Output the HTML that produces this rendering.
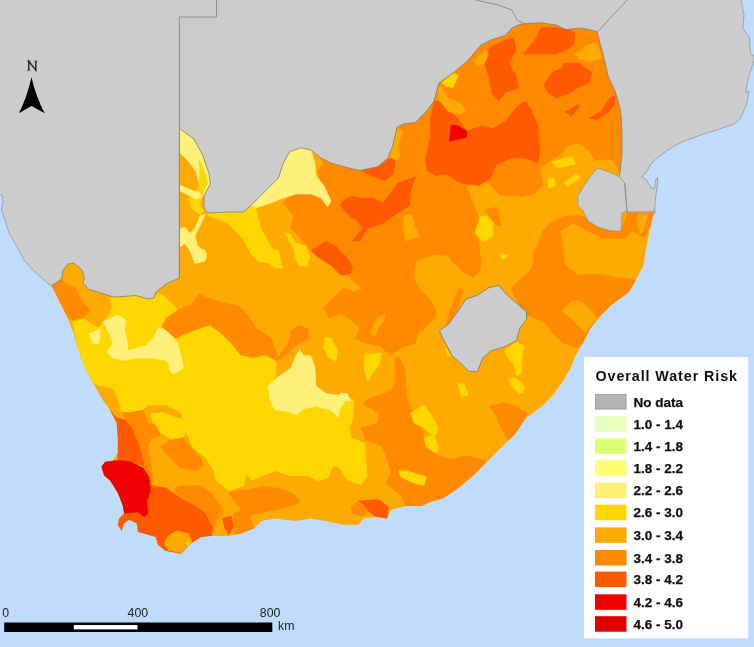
<!DOCTYPE html>
<html><head><meta charset="utf-8"><title>Overall Water Risk</title>
<style>
html,body{margin:0;padding:0;background:#bfdcfd;}
body{width:754px;height:647px;overflow:hidden;position:relative;font-family:"Liberation Sans",sans-serif;}
svg text{font-family:"Liberation Sans",sans-serif;}
.lg text{stroke:#111;stroke-width:0.25px;}
</style></head><body>
<svg width="754" height="647" viewBox="0 0 754 647" style="position:absolute;left:0;top:0">
<defs><filter id="b" x="-2%" y="-2%" width="104%" height="104%"><feGaussianBlur stdDeviation="0.7"/></filter><filter id="b2" x="-2%" y="-2%" width="104%" height="104%"><feGaussianBlur stdDeviation="0.6"/></filter><clipPath id="sa"><polygon points="179.4,128.5 194.0,139.0 202.8,155.4 209.0,173.0 210.3,184.0 204.0,195.7 204.0,208.0 207.8,213.0 228.0,212.0 243.0,212.0 250.6,205.8 265.8,190.6 278.4,178.0 283.4,163.0 289.7,151.6 301.0,147.8 311.0,150.0 321.0,158.0 331.0,163.0 344.0,166.7 360.0,170.5 377.8,166.7 387.9,158.0 393.0,145.0 397.0,127.0 405.0,123.5 415.6,122.6 428.0,109.6 434.0,101.0 439.0,83.0 453.0,73.0 468.0,60.5 481.0,45.0 491.0,40.0 506.0,35.0 512.0,28.0 521.0,24.0 541.0,22.7 556.0,25.0 566.0,29.5 581.6,28.0 597.0,31.5 604.0,58.0 608.0,75.6 615.7,93.0 620.7,111.0 622.0,131.0 622.0,155.0 619.6,175.5 624.7,183.0 627.5,212.5 654.4,212.7 652.5,218.0 648.6,236.0 645.5,252.0 643.6,265.0 636.0,280.0 628.4,292.8 620.9,298.0 610.8,305.4 600.7,315.5 590.6,328.0 583.0,343.0 575.5,355.8 570.5,368.4 563.0,381.0 553.0,395.5 541.0,407.0 526.0,417.8 516.0,433.0 505.8,443.0 495.8,453.0 485.7,463.0 473.0,475.8 458.0,488.4 442.8,498.4 431.5,501.5 421.4,506.0 406.0,506.0 391.0,509.7 387.0,518.5 376.0,517.0 363.4,518.5 358.4,524.8 343.0,524.8 325.6,521.0 310.5,518.5 295.4,521.0 275.0,518.5 261.4,521.0 254.0,528.5 241.3,533.6 228.7,536.0 211.0,536.0 201.0,537.0 191.0,543.6 180.8,553.7 165.7,551.0 158.0,545.0 155.6,537.0 148.0,534.8 138.0,532.0 136.7,523.5 129.0,519.7 124.0,523.5 121.6,531.0 117.8,524.7 119.0,518.4 124.0,513.4 122.8,505.8 117.8,493.0 110.0,480.6 104.0,475.6 101.4,466.8 105.0,461.7 112.8,460.5 117.8,453.0 117.8,437.8 116.5,422.7 110.0,410.0 102.7,400.0 93.0,383.0 84.0,365.7 77.8,348.0 72.8,330.4 67.7,317.8 60.0,302.7 51.5,285.8 61.7,279.0 63.0,270.0 68.0,264.0 74.0,263.0 82.0,270.0 84.4,278.0 83.0,283.0 88.0,289.0 100.8,293.0 113.4,297.0 136.0,295.6 148.7,299.0 153.7,298.0 156.0,292.0 166.0,284.0 179.4,278.0"/></clipPath></defs>
<rect width="754" height="647" fill="#bfdcfd"/>
<g filter="url(#b)">
<polygon points="0.0,0.0 741.0,0.0 744.0,14.8 743.0,27.8 746.8,34.0 749.5,37.0 750.5,53.7 754.0,55.5 754.0,61.0 749.5,74.0 746.8,85.0 745.8,92.6 749.0,91.0 746.8,103.7 742.0,114.8 739.4,120.0 733.0,124.5 715.0,130.5 700.0,135.3 681.6,142.0 668.0,149.8 657.8,157.4 651.0,164.0 646.0,172.7 641.7,177.0 646.0,179.5 651.0,187.0 654.4,188.9 656.0,178.7 657.8,177.8 657.0,188.0 655.3,200.0 654.4,212.7 600.0,300.0 300.0,330.0 80.0,320.0 51.5,285.8 42.8,279.0 32.8,270.0 24.0,260.0 17.6,247.7 8.8,232.6 5.0,220.0 1.3,210.0 3.0,202.0 2.5,196.0 0.0,194.8" fill="#cccccc"/>
<polygon points="179.4,128.5 194.0,139.0 202.8,155.4 209.0,173.0 210.3,184.0 204.0,195.7 204.0,208.0 207.8,213.0 228.0,212.0 243.0,212.0 250.6,205.8 265.8,190.6 278.4,178.0 283.4,163.0 289.7,151.6 301.0,147.8 311.0,150.0 321.0,158.0 331.0,163.0 344.0,166.7 360.0,170.5 377.8,166.7 387.9,158.0 393.0,145.0 397.0,127.0 405.0,123.5 415.6,122.6 428.0,109.6 434.0,101.0 439.0,83.0 453.0,73.0 468.0,60.5 481.0,45.0 491.0,40.0 506.0,35.0 512.0,28.0 521.0,24.0 541.0,22.7 556.0,25.0 566.0,29.5 581.6,28.0 597.0,31.5 604.0,58.0 608.0,75.6 615.7,93.0 620.7,111.0 622.0,131.0 622.0,155.0 619.6,175.5 624.7,183.0 627.5,212.5 654.4,212.7 652.5,218.0 648.6,236.0 645.5,252.0 643.6,265.0 636.0,280.0 628.4,292.8 620.9,298.0 610.8,305.4 600.7,315.5 590.6,328.0 583.0,343.0 575.5,355.8 570.5,368.4 563.0,381.0 553.0,395.5 541.0,407.0 526.0,417.8 516.0,433.0 505.8,443.0 495.8,453.0 485.7,463.0 473.0,475.8 458.0,488.4 442.8,498.4 431.5,501.5 421.4,506.0 406.0,506.0 391.0,509.7 387.0,518.5 376.0,517.0 363.4,518.5 358.4,524.8 343.0,524.8 325.6,521.0 310.5,518.5 295.4,521.0 275.0,518.5 261.4,521.0 254.0,528.5 241.3,533.6 228.7,536.0 211.0,536.0 201.0,537.0 191.0,543.6 180.8,553.7 165.7,551.0 158.0,545.0 155.6,537.0 148.0,534.8 138.0,532.0 136.7,523.5 129.0,519.7 124.0,523.5 121.6,531.0 117.8,524.7 119.0,518.4 124.0,513.4 122.8,505.8 117.8,493.0 110.0,480.6 104.0,475.6 101.4,466.8 105.0,461.7 112.8,460.5 117.8,453.0 117.8,437.8 116.5,422.7 110.0,410.0 102.7,400.0 93.0,383.0 84.0,365.7 77.8,348.0 72.8,330.4 67.7,317.8 60.0,302.7 51.5,285.8 61.7,279.0 63.0,270.0 68.0,264.0 74.0,263.0 82.0,270.0 84.4,278.0 83.0,283.0 88.0,289.0 100.8,293.0 113.4,297.0 136.0,295.6 148.7,299.0 153.7,298.0 156.0,292.0 166.0,284.0 179.4,278.0" fill="#ffaa00"/>
<g clip-path="url(#sa)" stroke-linejoin="round">
<polygon points="321.0,158.0 323.7,164.0 317.4,170.5 321.0,183.0 331.0,203.0 327.5,207.0 321.0,198.0 311.0,194.0 296.0,194.0 287.0,198.0 283.4,203.0 293.5,215.8 291.0,228.4 301.0,238.5 311.0,251.0 318.7,258.0 331.0,266.0 341.0,276.0 352.0,272.0 350.0,277.0 356.0,284.0 363.0,289.0 352.6,291.6 344.0,287.8 331.0,300.0 323.7,308.0 328.8,318.0 341.4,313.0 351.4,320.6 360.0,328.0 355.0,338.0 365.0,343.0 380.0,345.8 390.4,355.8 400.5,348.0 415.6,343.0 418.0,333.0 430.7,323.0 437.0,313.0 430.7,300.0 420.6,290.0 413.0,277.7 415.6,265.0 428.0,260.0 440.8,256.0 451.0,260.0 463.5,272.7 473.6,277.7 480.0,270.0 481.0,261.0 478.6,243.6 476.0,231.0 480.0,221.0 476.0,210.8 471.0,198.0 466.0,185.6 488.7,183.0 501.0,195.7 516.4,195.7 522.6,197.0 535.0,193.0 542.8,185.6 540.0,168.0 551.6,160.4 568.0,147.8 580.6,144.0 588.0,150.0 595.7,160.4 610.8,159.0 618.4,168.0 619.6,175.5 622.0,155.0 622.0,131.0 620.7,111.0 615.7,93.0 608.0,75.6 604.0,58.0 597.0,31.5 581.6,28.0 566.0,29.5 556.0,25.0 541.0,22.7 521.0,24.0 512.0,28.0 506.0,35.0 491.0,40.0 481.0,45.0 468.0,60.5 453.0,73.0 439.0,83.0 434.0,101.0 428.0,109.6 415.6,122.6 405.0,123.5 397.0,127.0 393.0,145.0 387.9,158.0 377.8,166.7 360.0,170.5 344.0,166.7 331.0,163.0 321.0,158.0" fill="#ff8a00" stroke="#ff8a00" stroke-width="0.6"/>
<polygon points="488.4,49.0 501.0,41.6 513.6,37.8 516.0,50.4 508.5,63.0 516.0,75.6 518.6,88.0 506.0,92.0 498.4,100.8 492.0,93.0 488.4,75.6 484.6,63.0" fill="#ff5a00" stroke="#ff5a00" stroke-width="0.6"/>
<polygon points="541.0,27.7 556.4,27.7 570.0,30.0 575.0,33.0 574.0,45.0 570.0,47.9 556.4,54.0 536.0,54.0 523.6,54.0 531.0,45.0 536.0,37.8" fill="#ff5a00" stroke="#ff5a00" stroke-width="0.6"/>
<polygon points="543.8,85.7 551.4,73.0 561.5,68.0 564.0,63.0 579.0,63.0 591.7,73.0 589.0,83.0 579.0,87.0 570.0,93.0 556.4,98.0 548.8,93.0" fill="#ff5a00" stroke="#ff5a00" stroke-width="0.6"/>
<polygon points="434.0,100.8 440.5,100.8 455.6,116.0 467.0,131.0 480.8,126.0 493.4,128.5 506.0,121.0 516.0,108.0 525.0,100.8 531.4,110.0 537.7,125.0 540.0,147.8 537.7,163.0 525.0,157.9 511.4,158.0 496.0,165.0 491.0,178.0 478.6,185.6 461.0,183.0 445.8,174.0 435.8,175.5 427.0,170.5 425.7,160.0 430.7,135.0 430.4,118.5" fill="#ff5a00" stroke="#ff5a00" stroke-width="0.6"/>
<polygon points="451.0,125.0 458.5,126.0 467.0,131.4 466.0,137.7 458.5,139.0 449.6,141.5" fill="#f00000" stroke="#f00000" stroke-width="0.6"/>
<polygon points="589.0,118.5 601.8,111.0 609.4,98.0 615.7,95.8 614.4,105.8 606.8,113.4 596.8,119.7" fill="#ff5a00" stroke="#ff5a00" stroke-width="0.6"/>
<polygon points="565.0,112.0 577.9,104.6 579.0,107.0 571.6,116.0" fill="#ff5a00" stroke="#ff5a00" stroke-width="0.6"/>
<polygon points="440.5,85.7 448.0,98.0 460.6,103.0 465.7,111.0 458.0,114.7 448.0,111.0 439.0,100.8 438.0,88.0" fill="#ffaa00" stroke="#ffaa00" stroke-width="0.6"/>
<polygon points="441.7,83.0 453.0,73.0 458.0,75.6 453.0,88.0 446.0,86.0" fill="#ffd700" stroke="#ffd700" stroke-width="0.6"/>
<polygon points="473.0,60.5 485.8,50.4 488.4,54.0 484.6,63.0 478.0,65.5" fill="#ffaa00" stroke="#ffaa00" stroke-width="0.6"/>
<polygon points="575.0,54.0 586.7,45.0 596.8,42.8 601.8,58.0 591.7,61.7 579.0,59.0" fill="#ffaa00" stroke="#ffaa00" stroke-width="0.6"/>
<polygon points="387.6,151.0 397.6,128.5 402.7,131.0 397.6,146.0 400.0,156.0 395.0,162.0 388.0,158.0" fill="#ffaa00" stroke="#ffaa00" stroke-width="0.6"/>
<polygon points="340.0,205.8 352.6,198.0 372.8,198.0 382.8,203.0 398.0,183.0 415.6,176.8 410.6,190.6 409.3,205.8 398.0,213.0 382.8,223.4 367.7,228.4 360.0,241.0 352.6,241.0 362.7,228.4 355.0,218.0 347.6,210.8" fill="#ff5a00" stroke="#ff5a00" stroke-width="0.6"/>
<polygon points="359.0,169.0 377.8,166.7 390.4,158.0 395.4,160.4 393.0,173.0 385.4,180.6 370.0,175.5" fill="#ff5a00" stroke="#ff5a00" stroke-width="0.6"/>
<polygon points="341.4,203.0 351.4,195.7 360.0,198.0 362.0,221.0 351.4,218.0 344.0,210.8" fill="#ff5a00" stroke="#ff5a00" stroke-width="0.6"/>
<polygon points="311.0,251.0 326.0,241.0 336.0,246.0 340.0,251.0 347.6,258.0 352.6,268.0 350.0,274.0 341.4,275.0 331.0,265.0 318.7,257.6" fill="#ff5a00" stroke="#ff5a00" stroke-width="0.6"/>
<polygon points="404.0,216.0 411.8,214.6 415.6,228.4 419.4,236.0 405.5,241.0 403.0,226.0" fill="#ffaa00" stroke="#ffaa00" stroke-width="0.6"/>
<polygon points="415.6,261.0 435.8,255.0 448.0,256.0 456.0,272.0 440.0,258.0 428.0,261.0 416.0,266.0" fill="#ffaa00" stroke="#ffaa00" stroke-width="0.6"/>
<polygon points="480.0,217.0 486.0,215.8 493.7,223.4 492.5,236.0 483.6,242.0 474.8,233.5" fill="#ffd700" stroke="#ffd700" stroke-width="0.6"/>
<polygon points="501.0,253.6 507.6,255.0 505.0,259.0 501.0,259.0" fill="#ffd700" stroke="#ffd700" stroke-width="0.6"/>
<polygon points="485.0,209.5 497.5,207.0 501.0,226.0 495.0,224.0" fill="#ff8a00" stroke="#ff8a00" stroke-width="0.6"/>
<polygon points="551.6,161.7 573.0,156.6 575.5,164.0 558.0,168.0" fill="#ffd700" stroke="#ffd700" stroke-width="0.6"/>
<polygon points="547.8,179.0 554.0,178.0 555.4,185.6 549.0,188.0" fill="#ffd700" stroke="#ffd700" stroke-width="0.6"/>
<polygon points="564.0,183.0 576.8,173.0 579.3,178.0 568.0,185.6" fill="#ffd700" stroke="#ffd700" stroke-width="0.6"/>
<polygon points="564.0,148.7 576.6,143.6 580.0,146.0 568.0,150.0" fill="#ffaa00" stroke="#ffaa00" stroke-width="0.6"/>
<polygon points="550.0,223.0 565.0,215.8 583.0,215.8 598.0,228.0 621.0,232.0 627.0,213.0 656.0,212.0 652.0,222.0 645.0,237.0 640.0,236.0 633.5,231.0 623.0,238.5 603.0,238.5 588.0,231.0 573.0,223.0 560.0,231.0 563.0,251.0 560.0,272.0 563.0,250.0 565.0,265.0 578.0,275.0 598.0,274.0 618.0,277.7 636.0,280.0 628.4,292.8 620.9,298.0 610.8,305.4 600.7,315.5 590.6,328.0 583.0,343.0 578.0,348.0 563.0,343.0 552.8,333.0 545.0,323.0 535.0,318.0 527.6,315.5 520.0,305.4 511.4,287.8 522.6,277.7 532.7,267.6 534.0,250.0 537.7,246.0 542.8,231.0" fill="#ff8a00" stroke="#ff8a00" stroke-width="0.6"/>
<polygon points="561.7,310.5 573.0,300.0 583.0,303.0 593.0,313.0 597.0,319.0 588.0,328.0 585.6,333.0 578.0,325.6 570.5,318.0" fill="#ffaa00" stroke="#ffaa00" stroke-width="0.6"/>
<polygon points="511.4,287.8 530.0,275.0 534.0,262.0 530.0,313.0 521.5,305.4 514.0,295.4" fill="#ff8a00" stroke="#ff8a00" stroke-width="0.6"/>
<polygon points="638.5,214.0 647.3,214.0 643.6,230.4 639.8,234.0 637.3,225.0" fill="#ffaa00" stroke="#ffaa00" stroke-width="0.6"/>
<polygon points="179.4,128.5 194.0,139.0 202.8,155.4 209.0,173.0 210.3,184.0 204.0,195.7 200.0,186.0 196.0,172.0 190.0,163.0 180.0,153.0" fill="#fff07a" stroke="#fff07a" stroke-width="0.6"/>
<polygon points="199.0,159.0 205.0,173.0 207.8,183.0 202.8,193.0 200.0,205.8 204.0,210.8 200.0,215.0 191.4,208.0 188.9,198.0 195.0,195.7 199.0,185.6 200.0,175.5" fill="#ffd700" stroke="#ffd700" stroke-width="0.6"/>
<polygon points="180.0,185.6 200.0,193.0 202.8,197.0 196.0,199.0 180.0,191.0" fill="#fff07a" stroke="#fff07a" stroke-width="0.6"/>
<polygon points="180.0,228.4 185.0,227.0 190.0,233.5 195.0,228.4 200.0,215.8 205.0,214.6 200.0,226.0 195.0,236.0 197.7,246.0 206.5,253.6 205.0,261.0 195.0,263.7 190.0,251.0 185.0,243.6 180.0,247.0" fill="#fff07a" stroke="#fff07a" stroke-width="0.6"/>
<polygon points="283.4,163.0 289.7,151.6 301.0,147.8 311.0,150.0 315.0,163.0 316.0,175.5 323.7,185.6 331.0,200.7 327.5,207.0 321.0,198.0 311.0,194.0 296.0,194.0 283.4,198.0 270.8,203.0 255.7,208.0 250.6,205.8 265.8,190.6 278.4,178.0" fill="#fff07a" stroke="#fff07a" stroke-width="0.6"/>
<polygon points="207.8,213.0 228.0,212.0 243.0,212.0 250.6,206.0 255.7,208.0 260.7,228.0 270.8,246.0 281.0,263.7 283.0,268.0 276.0,268.0 268.0,262.6 258.0,261.0 250.6,253.6 243.0,238.5 228.0,223.0 207.8,215.8" fill="#ffd700" stroke="#ffd700" stroke-width="0.6"/>
<polygon points="284.7,233.5 289.7,233.5 296.0,243.6 306.0,246.0 308.6,256.0 307.4,266.0 299.8,266.0 296.0,258.7 293.5,248.6" fill="#ffd700" stroke="#ffd700" stroke-width="0.6"/>
<polygon points="191.4,250.0 205.0,250.0 206.5,257.6 200.0,262.6 194.0,260.0" fill="#fff07a" stroke="#fff07a" stroke-width="0.6"/>
<polygon points="161.0,326.6 166.0,317.8 177.4,310.0 191.0,305.0 199.0,294.0 207.8,298.0 220.4,302.0 238.0,305.4 248.0,315.5 255.7,328.0 270.8,338.0 275.8,350.8 278.0,358.0 288.4,343.0 291.0,330.6 298.5,325.6 308.6,329.0 308.6,338.0 296.0,345.8 288.4,353.0 281.0,358.0 275.8,361.0 265.8,355.8 253.0,358.0 240.6,355.8 230.5,343.0 220.0,333.0 210.0,325.6 203.8,327.9 195.0,330.6 186.0,334.0 176.0,339.0" fill="#ff8a00" stroke="#ff8a00" stroke-width="0.6"/>
<polygon points="72.8,321.6 82.8,319.0 99.0,327.9 108.0,316.5 112.0,307.7 110.0,297.0 113.4,296.5 136.0,295.0 148.7,298.5 153.7,297.5 158.0,293.0 163.0,295.0 171.0,302.7 177.4,310.0 166.0,317.8 161.0,326.6 176.0,339.0 182.6,335.7 195.0,330.6 210.0,325.6 220.0,333.0 230.5,343.0 240.6,355.8 253.0,358.0 265.8,355.8 275.8,361.0 275.8,376.0 268.0,386.0 270.0,400.0 275.0,410.0 287.8,411.4 296.6,415.0 303.0,409.0 315.5,406.4 330.6,410.0 338.0,417.7 340.7,407.6 348.0,397.6 354.0,400.0 353.0,417.7 349.5,427.8 350.8,437.9 364.7,443.0 366.0,463.0 367.0,475.7 360.9,484.5 348.0,480.7 339.5,468.0 333.0,465.6 328.0,478.0 318.0,480.7 308.0,475.7 290.0,475.7 275.0,470.6 262.6,475.7 251.4,480.6 246.0,473.0 243.8,485.7 228.7,490.7 216.0,480.6 213.6,470.6 206.0,458.0 193.4,447.9 185.8,431.5 180.8,441.6 173.0,440.0 160.6,432.8 153.0,422.7 150.6,413.9 163.0,412.6 175.8,417.6 183.0,419.0 180.8,412.6 165.7,405.0 148.0,405.0 143.0,410.0 130.4,412.6 121.6,412.6 118.0,398.4 113.0,388.4 100.5,385.8 93.0,383.0 84.0,365.7 77.8,348.0" fill="#ffd700" stroke="#ffd700" stroke-width="0.6"/>
<polygon points="89.0,334.0 100.5,329.0 99.0,343.0 94.0,344.0" fill="#fff07a" stroke="#fff07a" stroke-width="0.6"/>
<polygon points="103.0,321.6 118.0,315.0 125.7,320.0 124.4,330.4 127.0,340.5 128.0,350.6 145.8,345.5 153.4,338.0 158.4,327.9 166.0,330.4 176.0,340.5 181.0,355.6 183.6,368.0 176.0,373.0 171.0,368.0 166.0,360.6 150.9,358.0 135.8,358.0 123.0,360.6 113.0,358.0 106.8,351.8 113.0,343.0 109.0,333.0" fill="#fff07a" stroke="#fff07a" stroke-width="0.6"/>
<polygon points="170.0,335.7 177.6,343.0 181.0,358.0 180.0,371.0 172.5,373.5 169.0,370.0" fill="#fff07a" stroke="#fff07a" stroke-width="0.6"/>
<polygon points="268.0,386.0 275.8,378.5 291.0,368.0 296.0,355.8 299.8,349.5 303.6,355.8 311.0,355.8 315.0,368.0 316.0,386.0 326.0,393.6 346.4,396.0 351.4,401.0 348.0,397.6 340.7,407.6 338.0,417.7 330.6,410.0 315.5,406.4 303.0,409.0 296.6,415.0 287.8,411.4 275.0,410.0 270.0,400.0" fill="#fff07a" stroke="#fff07a" stroke-width="0.6"/>
<polygon points="250.6,250.0 278.4,250.0 282.0,267.6 275.8,267.6 268.0,262.6 258.0,261.0" fill="#ffd700" stroke="#ffd700" stroke-width="0.6"/>
<polygon points="296.0,250.0 307.0,250.0 310.0,257.5 306.0,266.0 299.8,265.0 296.0,257.0" fill="#ffd700" stroke="#ffd700" stroke-width="0.6"/>
<polygon points="325.0,338.0 331.0,338.0 337.6,350.8 336.0,361.0 328.8,358.0 323.7,348.0" fill="#ffd700" stroke="#ffd700" stroke-width="0.6"/>
<polygon points="51.5,285.8 61.7,279.0 66.0,284.0 75.0,287.6 82.8,302.7 90.4,310.0 82.8,317.8 72.8,320.0 67.7,317.8 60.0,302.7" fill="#ff8a00" stroke="#ff8a00" stroke-width="0.6"/>
<polygon points="130.4,412.6 143.0,410.0 148.0,422.7 155.6,425.0 160.6,435.0 153.0,437.8 148.0,445.0 150.6,460.5 153.0,480.6 150.6,485.7 143.0,468.0 140.5,450.4 133.0,430.0 125.4,420.0 121.6,412.6" fill="#ff8a00" stroke="#ff8a00" stroke-width="0.6"/>
<polygon points="116.5,417.6 125.4,420.0 133.0,430.0 140.5,450.4 144.3,465.5 130.4,461.7 117.8,460.5 117.8,453.0 117.8,437.8" fill="#ff5a00" stroke="#ff5a00" stroke-width="0.6"/>
<polygon points="115.6,417.0 110.0,410.0 116.5,422.7" fill="#ff5a00" stroke="#ff5a00" stroke-width="0.6"/>
<polygon points="160.6,446.6 170.7,440.0 183.0,437.8 190.9,447.9 201.0,458.0 203.5,465.5 196.0,470.6 180.8,468.0 173.0,460.5 165.7,453.0" fill="#ff8a00" stroke="#ff8a00" stroke-width="0.6"/>
<polygon points="150.6,485.7 165.7,488.0 180.8,498.0 196.0,505.8 206.0,513.4 213.6,528.5 211.0,536.0 201.0,537.0 191.0,543.6 180.8,553.7 165.7,551.0 158.0,545.0 155.6,537.0 148.0,534.8 138.0,532.0 136.7,523.5 129.0,519.7 124.0,523.5 121.6,531.0 117.8,524.7 119.0,518.4 124.0,513.4 138.0,512.0 144.3,517.0 148.0,513.4 146.8,500.8" fill="#ff5a00" stroke="#ff5a00" stroke-width="0.6"/>
<polygon points="168.0,536.0 175.8,531.0 188.4,533.6 192.0,542.0 180.8,552.5 168.0,550.0 164.4,543.6" fill="#ffaa00" stroke="#ffaa00" stroke-width="0.6"/>
<polygon points="185.8,542.4 190.0,542.0 188.0,547.0" fill="#ffd700" stroke="#ffd700" stroke-width="0.6"/>
<polygon points="173.0,488.0 185.8,485.7 201.0,485.7 211.0,493.0 221.0,505.8 223.6,513.4 217.3,518.4 213.6,528.5 206.0,513.4 196.0,505.8 180.8,498.0" fill="#ff8a00" stroke="#ff8a00" stroke-width="0.6"/>
<polygon points="222.4,518.4 231.0,516.0 233.7,526.0 228.7,534.8 225.0,528.5" fill="#ff5a00" stroke="#ff5a00" stroke-width="0.6"/>
<polygon points="105.0,461.7 117.8,460.5 130.4,461.7 143.0,468.0 149.3,478.0 150.6,490.7 146.8,500.8 148.0,513.4 144.3,517.0 138.0,512.0 124.0,513.4 122.8,505.8 117.8,493.0 110.0,480.6 104.0,475.6 101.4,466.8" fill="#f00000" stroke="#f00000" stroke-width="0.6"/>
<polygon points="229.0,492.0 246.0,490.0 265.0,486.5 280.0,488.5 293.0,493.4 300.0,501.8 287.5,507.0 272.0,510.5 259.6,513.0 250.0,515.7 241.5,510.0 234.6,501.8" fill="#ff8a00" stroke="#ff8a00" stroke-width="0.6"/>
<polygon points="233.0,514.0 241.5,510.0 250.0,515.7 252.0,522.0 254.0,528.5 241.3,533.6 235.0,534.5" fill="#ff8a00" stroke="#ff8a00" stroke-width="0.6"/>
<polygon points="366.0,400.0 376.0,396.0 385.0,393.5 392.0,389.0 395.5,380.0 394.5,368.0 395.5,358.0 399.0,357.0 404.0,366.0 406.0,380.0 405.0,382.5 403.8,400.0 410.0,415.0 422.7,430.4 425.0,445.5 437.8,455.6 450.4,459.4 465.5,455.6 485.7,460.6 485.7,463.0 473.0,475.8 458.0,488.4 442.8,498.4 431.5,501.5 421.4,506.0 406.0,506.0 401.0,495.8 386.0,483.0 391.0,473.0 386.0,455.5 381.0,445.0 366.0,440.0 360.9,427.8 378.5,422.8 378.5,412.7 376.0,410.0 363.4,405.0" fill="#ff8a00" stroke="#ff8a00" stroke-width="0.6"/>
<polygon points="365.0,401.0 385.0,393.6 390.0,398.7 398.0,396.0 405.5,386.0 408.0,401.0 413.0,412.0 375.0,412.0" fill="#ff8a00" stroke="#ff8a00" stroke-width="0.6"/>
<polygon points="411.0,412.7 424.0,405.0 431.5,415.0 437.8,427.8 436.5,435.0 430.0,434.0 424.0,427.8 413.8,422.8" fill="#ffd700" stroke="#ffd700" stroke-width="0.6"/>
<polygon points="424.0,437.9 434.0,435.0 439.0,448.0 436.0,453.0 431.5,450.5 426.4,446.7" fill="#ffd700" stroke="#ffd700" stroke-width="0.6"/>
<polygon points="398.7,470.6 406.0,470.6 426.4,477.0 424.0,485.8 411.0,482.0 401.0,477.0" fill="#ffd700" stroke="#ffd700" stroke-width="0.6"/>
<polygon points="358.4,500.9 378.5,499.6 388.6,507.0 387.0,518.5 376.0,517.0 368.4,511.0 363.4,504.7" fill="#ff5a00" stroke="#ff5a00" stroke-width="0.6"/>
<polygon points="350.8,507.0 358.4,502.0 368.4,511.0 363.4,516.0 353.0,513.5" fill="#ff8a00" stroke="#ff8a00" stroke-width="0.6"/>
<polygon points="489.5,406.5 500.8,404.0 516.0,406.5 527.0,412.8 526.0,417.8 516.0,433.0 508.4,440.5 500.8,427.9 495.8,415.0" fill="#ff8a00" stroke="#ff8a00" stroke-width="0.6"/>
<polygon points="458.0,383.8 464.0,385.0 468.0,395.0 461.7,396.4" fill="#ffd700" stroke="#ffd700" stroke-width="0.6"/>
<polygon points="508.4,380.0 518.4,380.0 524.7,388.8 519.7,393.9 513.4,387.6" fill="#ffd700" stroke="#ffd700" stroke-width="0.6"/>
<polygon points="505.0,350.8 516.4,342.0 524.0,345.8 521.5,360.9 521.3,373.5 516.4,376.0 514.0,363.4 507.6,358.4" fill="#ffd700" stroke="#ffd700" stroke-width="0.6"/>
<polygon points="508.9,378.5 516.4,378.5 524.0,386.0 522.7,393.6 516.4,391.0 511.4,386.0" fill="#ffd700" stroke="#ffd700" stroke-width="0.6"/>
<polygon points="365.0,354.6 381.6,353.0 380.0,363.4 372.8,373.5 367.7,381.0 364.0,368.0" fill="#ffd700" stroke="#ffd700" stroke-width="0.6"/>
<polygon points="370.0,333.0 377.8,318.0 385.4,314.0 384.0,320.6 377.8,328.0 375.0,337.0" fill="#ffaa00" stroke="#ffaa00" stroke-width="0.6"/>
<polygon points="445.8,325.6 452.0,305.4 459.7,287.8 463.5,290.0 457.0,310.5 448.4,324.3" fill="#ff8a00" stroke="#ff8a00" stroke-width="0.6"/>
<polygon points="445.8,348.0 450.9,355.8 447.0,356.0" fill="#ffd700" stroke="#ffd700" stroke-width="0.6"/>
<polygon points="458.5,384.8 463.5,383.6 468.5,395.0 462.0,396.0" fill="#ffd700" stroke="#ffd700" stroke-width="0.6"/>
<polygon points="340.0,393.6 347.6,393.6 350.0,401.0 343.0,400.0" fill="#fff07a" stroke="#fff07a" stroke-width="0.6"/>
<polygon points="491.0,406.0 503.8,402.5 516.0,406.5 500.0,408.0" fill="#ff8a00" stroke="#ff8a00" stroke-width="0.6"/>
</g>
<polygon points="439.5,330.6 448.4,324.3 458.5,310.5 466.0,299.0 477.0,295.4 488.7,287.8 498.8,285.3 506.0,294.0 516.4,303.0 526.5,311.7 526.5,319.3 520.0,328.0 516.4,340.7 503.8,347.0 491.0,350.8 482.4,358.4 477.4,372.0 468.5,371.0 461.0,363.4 452.0,355.8 447.0,345.8 442.0,337.0" fill="#cccccc" stroke="#777" stroke-width="0.8"/>
<polygon points="598.0,168.0 608.0,171.7 619.6,176.8 624.7,183.0 627.0,210.8 622.0,213.0 621.0,231.0 610.8,231.0 598.0,227.0 588.0,221.0 583.0,210.8 578.0,205.8 578.0,195.7 585.6,183.0 593.0,173.0" fill="#cccccc" stroke="#888" stroke-width="0.6"/>
<polyline points="179.4,128.5 194.0,139.0 202.8,155.4 209.0,173.0 210.3,184.0 204.0,195.7 204.0,208.0 207.8,213.0 228.0,212.0 243.0,212.0 250.6,205.8 265.8,190.6 278.4,178.0 283.4,163.0 289.7,151.6 301.0,147.8 311.0,150.0 321.0,158.0 331.0,163.0 344.0,166.7 360.0,170.5 377.8,166.7 387.9,158.0 393.0,145.0 397.0,127.0 405.0,123.5 415.6,122.6 428.0,109.6 434.0,101.0 439.0,83.0 453.0,73.0 468.0,60.5 481.0,45.0 491.0,40.0 506.0,35.0 512.0,28.0 521.0,24.0 541.0,22.7 556.0,25.0 566.0,29.5 581.6,28.0 597.0,31.5 604.0,58.0 608.0,75.6 615.7,93.0 620.7,111.0 622.0,131.0 622.0,155.0 619.6,175.5" fill="none" stroke="#808080" stroke-width="0.8"/>
<polyline points="51.5,285.8 61.7,279.0 63.0,270.0 68.0,264.0 74.0,263.0 82.0,270.0 84.4,278.0 83.0,283.0 88.0,289.0 100.8,293.0 113.4,297.0 136.0,295.6 148.7,299.0 153.7,298.0 156.0,292.0 166.0,284.0 179.4,278.0 179.4,128.5" fill="none" stroke="#808080" stroke-width="0.8"/>
<polyline points="179.4,278.0 179.4,17.0 216.5,17.0 216.5,0.0" fill="none" stroke="#8a8a8a" stroke-width="0.9"/>
<polyline points="475.7,0.0 498.4,5.0 512.0,10.0 517.0,20.0 525.0,24.0" fill="none" stroke="#8a8a8a" stroke-width="0.9"/>
<polyline points="627.0,0.0 598.0,31.5" fill="none" stroke="#8a8a8a" stroke-width="0.9"/>
<polyline points="624.7,183.0 627.0,212.0 656.0,212.0" fill="none" stroke="#8a8a8a" stroke-width="0.9"/>
<polyline points="741.0,0.0 744.0,14.8 743.0,27.8 746.8,34.0 749.5,37.0 750.5,53.7 754.0,55.5 754.0,61.0 749.5,74.0 746.8,85.0 745.8,92.6 749.0,91.0 746.8,103.7 742.0,114.8 739.4,120.0 733.0,124.5 715.0,130.5 700.0,135.3 681.6,142.0 668.0,149.8 657.8,157.4 651.0,164.0 646.0,172.7 641.7,177.0 646.0,179.5 651.0,187.0 654.4,188.9 656.0,178.7 657.8,177.8 657.0,188.0 655.3,200.0 654.4,212.7" fill="none" stroke="#8c8c8c" stroke-width="0.7"/>
<polyline points="51.5,285.8 42.8,279.0 32.8,270.0 24.0,260.0 17.6,247.7 8.8,232.6 5.0,220.0 1.3,210.0 3.0,202.0 2.5,196.0 0.0,194.8" fill="none" stroke="#8c8c8c" stroke-width="0.7"/>
</g>
<g filter="url(#b2)">
<!-- north arrow -->
<path d="M31.5,77 Q27.5,96 18.9,113.3 L31.5,106 L44.7,113.3 Q35.5,96 31.5,77 Z" fill="#000"/>
<path d="M28.8,70.2 L28.8,61.2 L35.8,70.2 L35.8,61.2" fill="none" stroke="#222" stroke-width="1.4"/><path d="M27.3,61.2h3 M27.3,70.2h3 M34.3,61.2h3" stroke="#222" stroke-width="0.8"/>
<!-- scale bar -->
<rect x="4.2" y="622.5" width="268.1" height="9.5" fill="#000"/>
<rect x="73.8" y="625" width="63.7" height="4.4" fill="#fff"/>
<text x="2.2" y="617.4" font-size="12.3" fill="#222">0</text>
<text x="127.6" y="617.4" font-size="12.3" fill="#222">400</text>
<text x="259.8" y="617.4" font-size="12.3" fill="#222">800</text>
<text x="278" y="630" font-size="12.3" fill="#222">km</text>
<!-- legend -->
<rect x="584" y="357" width="164.3" height="281.4" fill="#fff"/>
<text x="595.5" y="380.6" font-size="14.3" textLength="141.5" lengthAdjust="spacing" font-weight="bold" fill="#111">Overall Water Risk</text>
<g class="lg" font-size="13.5" font-weight="bold" fill="#111">
<rect x="595.4" y="394.4" width="30.7" height="14.7" fill="#b4b4b4" stroke="#999" stroke-width="0.8"/><text x="633.5" y="406.6">No data</text>
<rect x="595" y="416.2" width="31.5" height="15.5" fill="#e9ffbe"/><text x="633.5" y="428.8">1.0 - 1.4</text>
<rect x="595" y="438.4" width="31.5" height="15.5" fill="#dcff73"/><text x="633.5" y="451">1.4 - 1.8</text>
<rect x="595" y="460.4" width="31.5" height="15.5" fill="#ffff73"/><text x="633.5" y="473">1.8 - 2.2</text>
<rect x="595" y="482.5" width="31.5" height="15.5" fill="#ffee77"/><text x="633.5" y="495.1">2.2 - 2.6</text>
<rect x="595" y="504.7" width="31.5" height="15.5" fill="#ffd700"/><text x="633.5" y="517.3">2.6 - 3.0</text>
<rect x="595" y="527.4" width="31.5" height="15.5" fill="#ffaa00"/><text x="633.5" y="540">3.0 - 3.4</text>
<rect x="595" y="550" width="31.5" height="15.5" fill="#ff8a00"/><text x="633.5" y="562.6">3.4 - 3.8</text>
<rect x="595" y="571.6" width="31.5" height="15.5" fill="#ff5a00"/><text x="633.5" y="584.2">3.8 - 4.2</text>
<rect x="595" y="594.3" width="31.5" height="15.5" fill="#f00000"/><text x="633.5" y="606.9">4.2 - 4.6</text>
<rect x="595" y="616.2" width="31.5" height="15.5" fill="#e00000"/><text x="633.5" y="628.8">4.6 - 5.0</text>
</g>
</g>

</svg>
</body></html>
